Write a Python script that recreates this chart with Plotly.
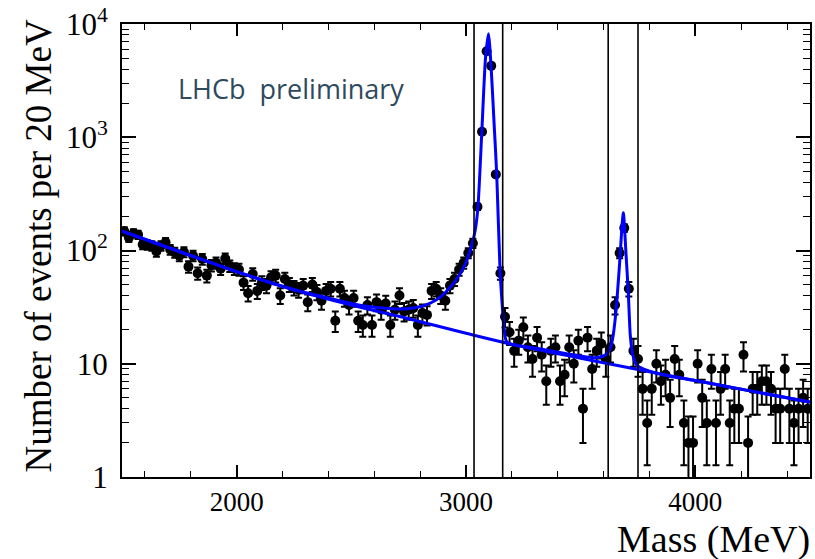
import numpy as np
import plotly.graph_objects as go

# ---- data ----
bin_centres = list(range(1510, 4500, 20))  # 20 MeV bins from 1500 to 4500 MeV

counts = [
    148, 130, 142, 138, 113, 112, 110, 98, 110, 118,
    102, 96, 90, 97, 72, 90, 63, 84, 60, 74,
    78, 69, 85, 73, 69, 68, 52, 42, 62, 44,
    52, 49, 58, 60, 40, 56, 50, 47, 45, 49,
    35, 50, 43, 36, 44, 46, 24, 46, 38, 33,
    38, 24, 22, 33, 22, 35, 30, 34, 22, 30,
    40, 29, 30, 31, 22, 28, 27, 44, 46, 40,
    36, 49, 56, 68, 78, 95, 116, 243, 1120, 5750,
    4270, 470, 63, 26, 19, 13, 16, 21, 14, 11,
    17, 12, 7, 13, 14, 7, 8, 14, 10, 16,
    4, 17, 9, 13, 15, 11, 14, 33, 95, 158,
    46, 13, 11, 6, 3, 6, 10, 7, 8, 5,
    11, 8, 3, 2, 2, 10, 5, 3, 9, 3,
    6, 9, 3, 4, 4, 12, 2, 6, 6, 7,
    7, 6, 4, 4, 9, 4, 3, 4, 5, 4,
]

# background component of the fit
bkg_mass = [1500, 1750, 2000, 2250, 2500, 2750, 3000, 3250, 3500, 3750, 4000, 4250, 4500]
bkg_vals = [148, 98, 65, 45, 33, 25, 18.6, 14.1, 11.2, 8.9, 7.1, 5.7, 4.6]

# total fit
fit_mass = [1500, 1750, 2000, 2250, 2400, 2550, 2690, 2770, 2840, 2896, 2954, 2997,
            3026, 3040, 3052, 3069, 3085, 3098, 3110, 3122, 3134, 3149, 3158, 3166,
            3175, 3190, 3300, 3444, 3560, 3603, 3625, 3639, 3654, 3668, 3686, 3697,
            3708, 3716, 3726, 3745, 3834, 4000, 4250, 4500]
fit_vals = [148, 98, 65, 45, 38, 32.5, 30.5, 31, 34, 40, 54, 76,
            113, 150, 240, 1120, 5000, 8200, 4000, 1380, 470, 62, 33, 20,
            16, 15, 13.8, 12.2, 11.3, 11.8, 13.1, 16.5, 29, 68, 215, 99,
            41, 18.3, 12.2, 9.7, 8.2, 7.1, 5.7, 4.6]

# signal-window boundaries (vertical lines)
window_edges = [3035, 3160, 3620, 3750]

y_tickvals = [1, 10, 100, 1000, 10000]
y_ticktext = ["1", "10", "10<sup>2</sup>", "10<sup>3</sup>", "10<sup>4</sup>"]
y_minor = [k * 10 ** d for d in range(4) for k in range(2, 10)]

errors = np.sqrt(np.array(counts, dtype=float))

serif = "Liberation Serif"

fig = go.Figure()

fig.add_trace(go.Scatter(
    x=bin_centres, y=counts, mode="markers",
    marker=dict(color="black", size=10),
    error_y=dict(type="data", array=errors, color="black", thickness=2, width=3.5),
    hoverinfo="skip",
))

fig.add_trace(go.Scatter(
    x=bkg_mass, y=bkg_vals, mode="lines",
    line=dict(color="#0000ff", width=3, shape="spline", smoothing=1.0),
))

fig.add_trace(go.Scatter(
    x=fit_mass, y=fit_vals, mode="lines",
    line=dict(color="#0000ff", width=3, shape="spline", smoothing=0.6),
))

for xe in window_edges:
    fig.add_shape(type="line", x0=xe, x1=xe, xref="x", y0=0, y1=1, yref="paper",
                  line=dict(color="black", width=1.6))

fig.update_layout(
    width=815, height=559,
    margin=dict(l=122, r=3, t=22, b=82),
    plot_bgcolor="white", paper_bgcolor="white",
    showlegend=False,
    font=dict(family=serif, color="black"),
)

fig.update_xaxes(
    range=[1500, 4500], showgrid=False, zeroline=False,
    showline=True, linecolor="black", linewidth=2, mirror="allticks",
    ticks="inside", ticklen=12, tickwidth=1.5, tickcolor="black",
    tick0=0, dtick=1000,
    tickfont=dict(family=serif, size=27, color="black"),
    minor=dict(ticks="inside", dtick=200, tick0=0, ticklen=6, tickwidth=1.2, tickcolor="black"),
)

fig.update_yaxes(
    type="log", range=[0, 4], showgrid=False, zeroline=False,
    showline=True, linecolor="black", linewidth=2, mirror="allticks",
    ticks="inside", ticklen=14, tickwidth=1.5, tickcolor="black",
    tickmode="array", tickvals=y_tickvals, ticktext=y_ticktext,
    tickfont=dict(family=serif, size=31, color="black"),
    ticklabelstandoff=6,
    minor=dict(ticks="inside", tickmode="array", tickvals=y_minor, ticklen=7,
               tickwidth=1.2, tickcolor="black"),
)

fig.add_annotation(
    text="Number of events per 20 MeV", textangle=-90,
    xref="paper", yref="paper", x=0, y=0.5, xshift=-84, yshift=4,
    xanchor="center", yanchor="middle", showarrow=False,
    font=dict(family=serif, size=37, color="black"),
)
fig.add_annotation(
    text="Mass (MeV)",
    xref="paper", yref="paper", x=1, y=0, xshift=2, yshift=-62,
    xanchor="right", yanchor="middle", showarrow=False,
    font=dict(family=serif, size=38, color="black"),
)
fig.add_annotation(
    text="LHCb  preliminary",
    xref="paper", yref="paper", x=(176 - 122) / 690, y=(477 - 87) / 455,
    xanchor="left", yanchor="middle", showarrow=False,
    font=dict(family="Open Sans", size=27, color="#2e4a5e"),
)

fig.write_html("out.html", config={"displayModeBar": False},
               post_script="document.body.style.margin='0';document.body.style.padding='0';")
